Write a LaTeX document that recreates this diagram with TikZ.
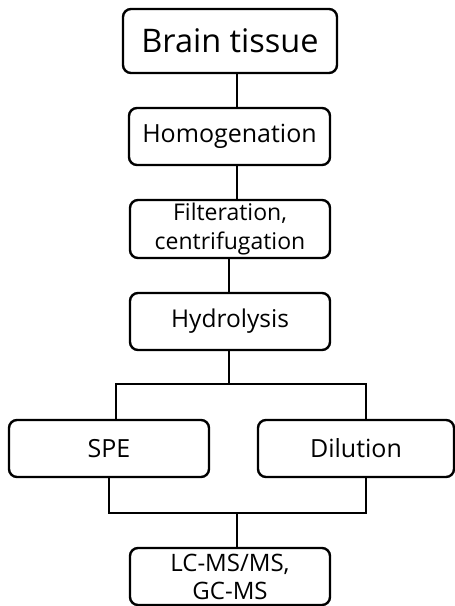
\documentclass[tikz,border=0pt]{standalone}
\usepackage{fontspec}
\setmainfont{Open Sans}
\begin{document}
\begin{tikzpicture}[x=1pt,y=-1pt,
  stepbox/.style={draw=black,line width=2.4pt,rounded corners=8pt,align=center,inner sep=0pt},
  conn/.style={line width=2.4pt}]
\useasboundingbox (0,0) rectangle (455,606);
\node[stepbox,minimum width=214,minimum height=64,font=\fontsize{32.5}{36}\selectfont] (bt) at (230,41) {Brain tissue};
\node[stepbox,minimum width=201,minimum height=57,font=\fontsize{25}{28}\selectfont] (hom) at (229.5,136.5) {Homogenation};
\node[stepbox,minimum width=200,minimum height=58,font=\fontsize{23}{29}\selectfont] (fil) at (230,229) {Filteration,\\centrifugation};
\node[stepbox,minimum width=200,minimum height=57,font=\fontsize{24.5}{28}\selectfont] (hyd) at (230,321.5) {Hydrolysis};
\node[stepbox,minimum width=200,minimum height=57,font=\fontsize{25}{28}\selectfont] (spe) at (109,448.5) {SPE};
\node[stepbox,minimum width=196,minimum height=57,font=\fontsize{25}{28}\selectfont] (dil) at (356,448.5) {Dilution};
\node[stepbox,minimum width=200,minimum height=57,font=\fontsize{24}{28}\selectfont] (lc) at (230,576.5) {LC-MS/MS,\\GC-MS};
\coordinate (j1) at (229,384);
\coordinate (j2) at (237,513);
\draw[conn] ([xshift=7pt]bt.south) -- ([xshift=7pt]bt.south |- hom.north);
\draw[conn] ([xshift=7.5pt]hom.south) -- ([xshift=7.5pt]hom.south |- fil.north);
\draw[conn] ([xshift=-1pt]fil.south) -- ([xshift=-1pt]fil.south |- hyd.north);
\draw[conn] ([xshift=-1pt]hyd.south) -- (j1);
\draw[conn] ([xshift=7pt]spe.north) -- ([xshift=7pt]spe.north |- j1) -- ([xshift=10pt]dil.north |- j1) -- ([xshift=10pt]dil.north);
\draw[conn] (spe.south) -- (spe.south |- j2) -- ([xshift=10pt]dil.south |- j2) -- ([xshift=10pt]dil.south);
\draw[conn] (j2) -- (j2 |- lc.north);
\end{tikzpicture}
\end{document}
